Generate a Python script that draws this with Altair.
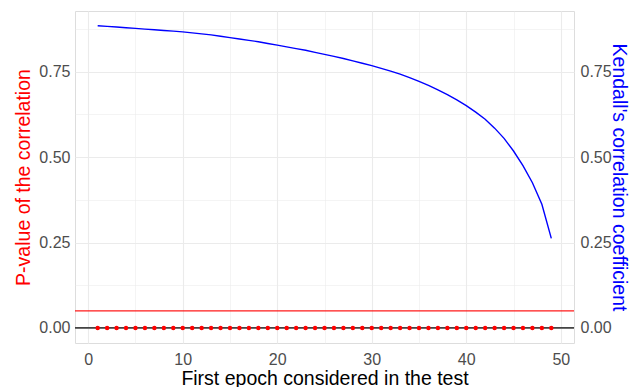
import altair as alt
import pandas as pd

epochs = list(range(1, 50))
kendall_tau = [0.885, 0.883, 0.881, 0.879, 0.877, 0.875, 0.873, 0.871, 0.869, 0.867,
               0.864, 0.861, 0.858, 0.854, 0.850, 0.846, 0.842, 0.838, 0.833, 0.828,
               0.823, 0.818, 0.813, 0.807, 0.801, 0.795, 0.789, 0.782, 0.775, 0.768,
               0.760, 0.752, 0.743, 0.733, 0.722, 0.710, 0.697, 0.683, 0.668, 0.651,
               0.632, 0.611, 0.585, 0.555, 0.518, 0.475, 0.425, 0.362, 0.262]
p_values = [0.0] * 49
thresholds = [0.05]
baseline = [0.0]

df = pd.DataFrame({"epoch": epochs, "tau": kendall_tau, "p": p_values})
df_thr = pd.DataFrame({"y": thresholds})
df_base = pd.DataFrame({"y": baseline})

YDOM = [-0.0442, 0.928]
XDOM = [-1.4, 51.4]
FONT = "Liberation Sans"
LABEL_COLOR = "#4D4D4D"
GRID = "#EBEBEB"

xscale = alt.Scale(domain=XDOM, nice=False, zero=False)
yscale = alt.Scale(domain=YDOM, nice=False, zero=False)

x_axis = alt.Axis(
    title="First epoch considered in the test",
    values=[0, 5, 10, 15, 20, 25, 30, 35, 40, 45, 50],
    labelExpr="datum.value % 10 == 0 ? datum.label : ''",
    ticks=False, domain=False, tickSize=0,
    labelFontSize=16, labelColor=LABEL_COLOR, labelPadding=8, labelFont=FONT,
    titleFontSize=19.5, titleColor="black", titleFont=FONT, titleFontWeight="normal",
    titleBaseline="alphabetic", titleY=41,
    gridColor=GRID,
    gridWidth={"condition": {"test": "datum.value % 10 == 0", "value": 1.1}, "value": 0.55},
)

left_axis = alt.Axis(
    title="P-value of the correlation",
    values=[0, 0.125, 0.25, 0.375, 0.5, 0.625, 0.75, 0.875],
    labelExpr="(datum.value * 1000) % 250 == 0 ? format(datum.value, '.2f') : ''",
    ticks=False, domain=False, tickSize=0,
    labelFontSize=16, labelColor=LABEL_COLOR, labelPadding=5, labelFont=FONT,
    titleFontSize=19.5, titleColor="red", titleFont=FONT, titleFontWeight="normal",
    titleAngle=270, titleBaseline="alphabetic", titleX=-46, titleY=166, titleAlign="center",
    gridColor=GRID,
    gridWidth={"condition": {"test": "(datum.value * 1000) % 250 == 0", "value": 1.1}, "value": 0.55},
)

right_axis = alt.Axis(
    title="Kendall's correlation coefficient",
    orient="right",
    values=[0, 0.25, 0.5, 0.75],
    format=".2f",
    ticks=False, domain=False, tickSize=0, grid=False,
    labelFontSize=16, labelColor=LABEL_COLOR, labelPadding=6, labelFont=FONT,
    titleFontSize=19.5, titleColor="blue", titleFont=FONT, titleFontWeight="normal",
    titleAngle=90, titleBaseline="alphabetic", titleX=38, titleY=166, titleAlign="center",
)

base_rule = alt.Chart(df_base).mark_rule(color="#444444", strokeWidth=1.9).encode(
    y=alt.Y("y:Q", scale=yscale, axis=left_axis)
)
thr_rule = alt.Chart(df_thr).mark_rule(color="red", strokeWidth=1.2, opacity=0.9).encode(
    y=alt.Y("y:Q", scale=yscale)
)
points = alt.Chart(df).mark_circle(color="red", size=20, opacity=1).encode(
    x=alt.X("epoch:Q", scale=xscale, axis=x_axis),
    y=alt.Y("p:Q", scale=yscale),
)
left_layer = alt.layer(base_rule, thr_rule, points)

tau_line = alt.Chart(df).mark_line(color="blue", strokeWidth=1.4).encode(
    x=alt.X("epoch:Q", scale=xscale),
    y=alt.Y("tau:Q", scale=yscale, axis=right_axis),
)

chart = alt.layer(left_layer, tau_line).resolve_scale(y="independent").properties(
    width=499, height=332,
    autosize=alt.AutoSizeParams(type="none"),
    padding={"left": 75, "top": 11, "right": 56, "bottom": 44},
).configure_view(stroke=None).configure(background="white")

chart.save("out.html", embed_options={"renderer": "svg", "actions": False})
